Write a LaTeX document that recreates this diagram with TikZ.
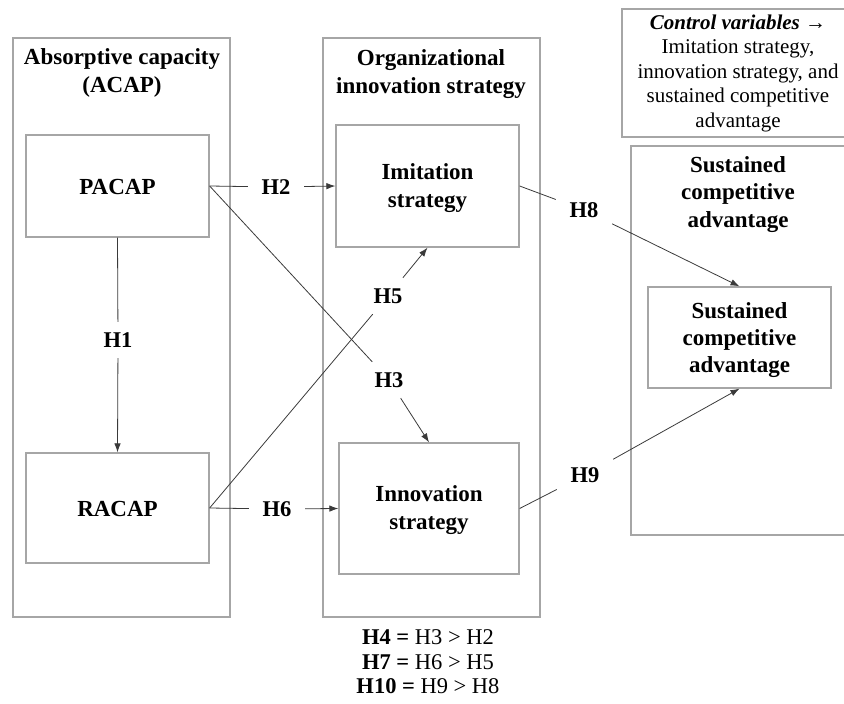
\documentclass[tikz,border=0pt]{standalone}
\usepackage{fontspec}
\setmainfont{Liberation Serif}
\usetikzlibrary{arrows.meta}
\definecolor{boxgray}{HTML}{A6A6A6}
\definecolor{linegray}{HTML}{3A3A3A}
\begin{document}
\begin{tikzpicture}[x=1pt,y=-1pt,
  box/.style={draw=boxgray, line width=1.3pt, inner sep=0pt},
  lab/.style={rectangle, inner sep=0pt, minimum width=56pt, minimum height=36pt,
    font=\fontsize{22.5}{26}\selectfont\bfseries},
  conn/.style={draw=linegray, line width=0.8pt},
  arr/.style={conn, -{Latex[length=9pt,width=6.5pt]}},
  ttl/.style={align=center, inner sep=0pt, font=\fontsize{23}{28}\selectfont\bfseries},
  plain/.style={align=center, inner sep=0pt, font=\fontsize{21}{24.5}\selectfont},
]
\useasboundingbox (0,0) rectangle (844,704);

% outer boxes
\node[box, minimum width=217pt, minimum height=579pt] (acapbox) at (121.5,327.5) {};
\node[box, minimum width=217pt, minimum height=579pt] (orgbox) at (431.5,327.5) {};
\node[box, minimum width=223pt, minimum height=128pt] (ctrlbox) at (733.5,73) {};
\node[box, minimum width=214pt, minimum height=389pt] (scabox) at (738,340.5) {};

% titles
\node[ttl] (acapttl) at (122,73) {Absorptive capacity\\(ACAP)};
\node[ttl] (orgttl) at (431,74) {Organizational\\innovation strategy};
\node[ttl, font=\fontsize{23}{27.5}\selectfont\bfseries] (scattl) at (738,194.5) {Sustained\\competitive\\advantage};
\node[plain] (ctrltxt) at (738,73) {\textbf{\textit{Control variables}} →\\Imitation strategy,\\innovation strategy, and\\sustained competitive\\advantage};

% inner boxes
\node[box, minimum width=183pt, minimum height=102pt] (pacap) at (117.5,186) {};
\node[ttl] (pacaptxt) at (117.5,187) {PACAP};
\node[box, minimum width=183pt, minimum height=110pt] (racap) at (117.5,508) {};
\node[ttl] (racaptxt) at (117.5,509) {RACAP};
\node[box, minimum width=183pt, minimum height=122pt] (imit) at (427.5,186) {};
\node[ttl] (imittxt) at (427.5,188) {Imitation\\strategy};
\node[box, minimum width=180pt, minimum height=131pt] (innov) at (429,508.5) {};
\node[ttl] (innovtxt) at (429,510.5) {Innovation\\strategy};
\node[box, minimum width=183pt, minimum height=101pt] (sca) at (739.5,337.5) {};
\node[ttl, font=\fontsize{23}{27}\selectfont\bfseries] (scatxt) at (739.5,340) {Sustained\\competitive\\advantage};

% hypothesis labels
\node[lab] (h1) at (118,340) {H1};
\node[lab] (h2) at (276,187) {H2};
\node[lab] (h3) at (389,380) {H3};
\node[lab] (h5) at (388,296) {H5};
\node[lab] (h6) at (277,509) {H6};
\node[lab] (h8) at (584,210) {H8};
\node[lab] (h9) at (585,475) {H9};

% connectors
\draw[conn] (pacap.south) -- (h1);
\draw[arr] (h1) -- (racap.north);
\draw[conn] (pacap.east) -- (h2);
\draw[arr] (h2) -- (imit.west);
\draw[conn] (pacap.east) -- (h3);
\draw[arr] (h3) -- (innov.north);
\draw[conn] (racap.east) -- (h5);
\draw[arr] (h5) -- (imit.south);
\draw[conn] (racap.east) -- (h6);
\draw[arr] (h6) -- (innov.west);
\draw[conn] (imit.east) -- (h8);
\draw[arr] (h8) -- (sca.north);
\draw[conn] (innov.east) -- (h9);
\draw[arr] (h9) -- (sca.south);

% bottom note
\node[align=center, inner sep=0pt, font=\fontsize{22.5}{24.5}\selectfont] (note) at (428,662)
  {\textbf{H4} \textbf{=} H3 > H2\\\textbf{H7} \textbf{=} H6 > H5\\\textbf{H10} \textbf{=} H9 > H8};
\end{tikzpicture}
\end{document}
